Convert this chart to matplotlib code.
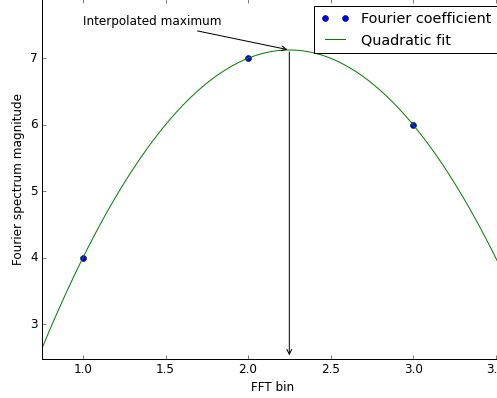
import numpy as np
import matplotlib
matplotlib.use("Agg")
import matplotlib.pyplot as plt

plt.style.use('classic')

# FFT bins and their magnitudes
bins = [1.0, 2.0, 3.0]
mags = [4.0, 7.0, 6.0]

# quadratic fit through the three samples
coef = np.polyfit(bins, mags, 2)
x_peak = -coef[1] / (2 * coef[0])
y_peak = np.polyval(coef, x_peak)
x_fit = np.linspace(0.75, 3.55, 300)
y_fit = np.polyval(coef, x_fit)

fig = plt.figure(figsize=(497 / 72.0, 398 / 72.0), dpi=72)
ax = fig.add_axes([0.0839, 0.0972, 0.930, 0.905])

ax.plot(bins, mags, 'bo', label='Fourier coefficient')
ax.plot(x_fit, y_fit, 'g-', label='Quadratic fit')

ax.annotate('Interpolated maximum', xy=(x_peak, y_peak), xytext=(1.0, 7.5),
            arrowprops=dict(arrowstyle='->'))
ax.annotate('', xy=(x_peak, 2.5), xytext=(x_peak, y_peak),
            arrowprops=dict(arrowstyle='->'))

ax.set_xlim(0.75, 3.55)
ax.set_ylim(2.47, 7.89)
ax.set_xticks([1.0, 1.5, 2.0, 2.5, 3.0, 3.5])
ax.set_yticks([3, 4, 5, 6, 7])
ax.set_xlabel('FFT bin')
ax.set_ylabel('Fourier spectrum magnitude')
ax.legend(loc='upper right')

fig.savefig('out.png', dpi=72)
